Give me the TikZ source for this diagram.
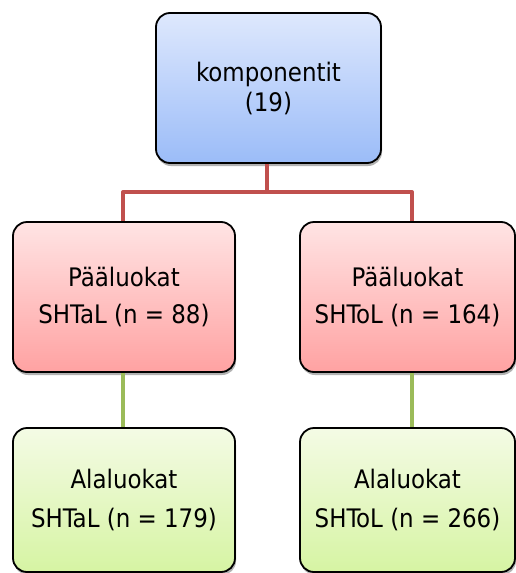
\documentclass[tikz,border=0pt]{standalone}
\usepackage{fontspec}
\setmainfont{DejaVu Sans Condensed}
\usetikzlibrary{shadows,calc}

\definecolor{blueTop}{HTML}{DEE8FD}
\definecolor{blueBot}{HTML}{9BBCF8}
\definecolor{redTop}{HTML}{FFE4E4}
\definecolor{redBot}{HTML}{FFA2A2}
\definecolor{greenTop}{HTML}{F4FBE5}
\definecolor{greenBot}{HTML}{D6F4A3}
\definecolor{linkRed}{HTML}{C0504D}
\definecolor{linkGreen}{HTML}{9BBB59}

\tikzset{
  card/.style={draw=black, line width=1.8pt, rounded corners=14pt,
    minimum width=#1, inner sep=0pt, align=center,
    drop shadow={shadow xshift=1pt, shadow yshift=-3pt, opacity=0.3, fill=black}},
  rootcard/.style={card=225pt, minimum height=150pt,
    top color=blueTop, bottom color=blueBot,
    font=\fontsize{25.5}{30}\selectfont},
  maincard/.style={card=#1, minimum height=150pt,
    top color=redTop, bottom color=redBot,
    font=\fontsize{25.5}{37}\selectfont},
  subcard/.style={card=#1, minimum height=144pt,
    top color=greenTop, bottom color=greenBot,
    font=\fontsize{25.5}{39}\selectfont},
  redlink/.style={draw=linkRed, line width=4pt, line join=round},
  greenlink/.style={draw=linkGreen, line width=4pt},
}

\begin{document}
\begin{tikzpicture}[x=1pt, y=-1pt]
  \useasboundingbox (0,0) rectangle (516,573);

  % links first, so the boxes sit on top of their ends
  \coordinate (split) at (267,192);
  \coordinate (rootFoot) at (267,163);
  \coordinate (legL) at (123,222);
  \coordinate (legR) at (412,222);

  % boxes
  \node[rootcard] (root) at (268.5,88) {komponentit\\(19)};
  \node[maincard=222pt] (mainL) at (124,297) {Pääluokat\\SHTaL (n = 88)};
  \node[maincard=215pt] (mainR) at (407.5,297) {Pääluokat\\SHToL (n = 164)};
  \node[subcard=222pt] (subL) at (124,500) {Alaluokat\\SHTaL (n = 179)};
  \node[subcard=215pt] (subR) at (407.5,500) {Alaluokat\\SHToL (n = 266)};

  \draw[redlink] (root.south -| rootFoot) -- (split);
  \draw[redlink] (split) -| (mainL.north -| legL);
  \draw[redlink] (split) -| (mainR.north -| legR);
  \draw[greenlink] (mainL.south -| legL) -- (subL.north -| legL);
  \draw[greenlink] (mainR.south -| legR) -- (subR.north -| legR);
\end{tikzpicture}
\end{document}
